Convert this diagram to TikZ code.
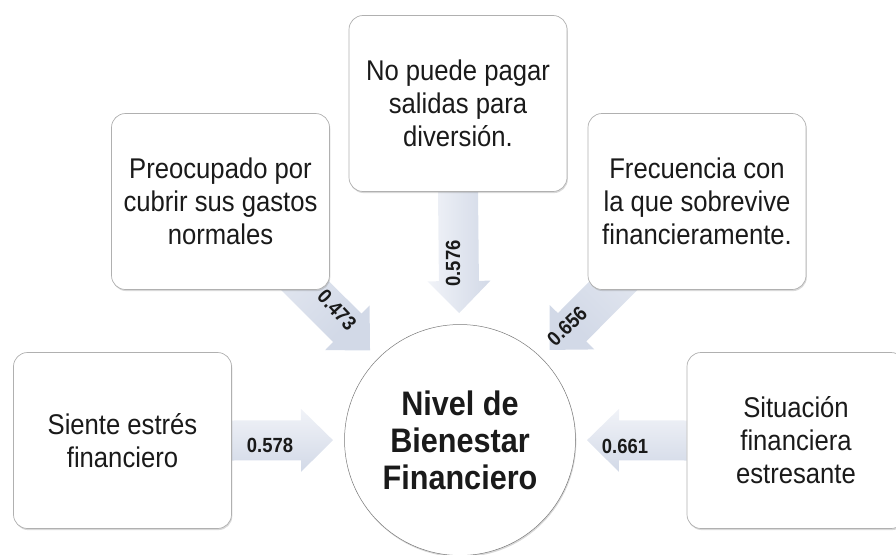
\documentclass[tikz,border=0pt]{standalone}
\usepackage{fontspec}
\setmainfont{Liberation Sans}[FakeStretch=0.9]
\usetikzlibrary{calc,shadows}
\pgfdeclarelayer{bg}
\pgfsetlayers{bg,main}
\definecolor{arrlight}{HTML}{F1F3F8}
\definecolor{arrdark}{HTML}{D2D9E7}
\definecolor{boxline}{HTML}{B0B0B0}
\definecolor{hubline}{HTML}{7A7A7A}
\definecolor{txt}{HTML}{1A1A1A}
\tikzset{
  softshadow/.style={drop shadow={shadow xshift=0.8pt, shadow yshift=-1.6pt, opacity=0.3}},
  boxnode/.style={rectangle, rounded corners=14pt, minimum width=218pt, minimum height=176pt,
    draw=boxline, line width=0.7pt, fill=white, align=center,
    font=\fontsize{28.5}{33}\selectfont, text=txt, inner sep=0pt, softshadow},
  hubnode/.style={circle, minimum size=231pt, draw=hubline, line width=0.5pt, fill=white,
    align=center, font=\bfseries\fontsize{34}{37}\selectfont, text=txt, inner sep=0pt, softshadow},
  lbl/.style={font=\bfseries\fontsize{20.5}{22}\selectfont, text=txt, inner sep=0pt},
  arrfill/.style={top color=arrlight, bottom color=arrdark}
}
% block arrow from #1 (tail) to #2 (tip), shading angle #3
\newcommand\blockarr[3]{%
  \path[arrfill, shading angle=#3] let \p1=(#1), \p2=(#2), \n1={atan2(\y2-\y1,\x2-\x1)} in
    ($(\p1)+(\n1+90:20pt)$)
    -- ($(\p2)+(\n1+180:32pt)+(\n1+90:20pt)$)
    -- ($(\p2)+(\n1+180:32pt)+(\n1+90:31.5pt)$)
    -- (\p2)
    -- ($(\p2)+(\n1+180:32pt)+(\n1-90:31.5pt)$)
    -- ($(\p2)+(\n1+180:32pt)+(\n1-90:20pt)$)
    -- ($(\p1)+(\n1-90:20pt)$) -- cycle;}
\begin{document}
\begin{tikzpicture}[x=1pt,y=-1pt]
\useasboundingbox (0,0) rectangle (896,554);
\clip (0,0) rectangle (896,554);

\node[boxnode] (tl)  at (220.5,201.5) {Preocupado por\\cubrir sus gastos\\normales};
\node[boxnode] (top) at (458,103.5)   {No puede pagar\\salidas para\\diversión.};
\node[boxnode] (tr)  at (697,201.5)   {Frecuencia con\\la que sobrevive\\financieramente.};
\node[boxnode] (ls)  at (122.5,440.5) {Siente estrés\\financiero};
\node[boxnode] (rs)  at (796,440.5)   {Situación\\financiera\\estresante};
\node[hubnode] (hub) at (460,440)     {Nivel de\\Bienestar\\Financiero};

\coordinate (tipL)  at ($(hub.center)!127pt!(ls.center)$);
\coordinate (tipR)  at ($(hub.center)!127pt!(rs.center)$);
\coordinate (tipT)  at ($(hub.center)!127pt!(top.center)$);
\coordinate (tipTL) at ($(hub.center)!127pt!(tl.center)$);
\coordinate (tipTR) at ($(hub.center)!127pt!(tr.center)$);

\begin{pgfonlayer}{bg}
  \blockarr{ls.east}{tipL}{0}
  \blockarr{rs.west}{tipR}{0}
  \blockarr{top.south}{tipT}{90}
  \blockarr{tl.center}{tipTL}{45}
  \blockarr{tr.center}{tipTR}{-45}
\end{pgfonlayer}

\node[lbl] (v578) at (270,445) {0.578};
\node[lbl] (v661) at (625,446) {0.661};
\node[lbl, rotate=90] (v576) at (453,263.5) {0.576};
\node[lbl, rotate=-47] (v473) at (337,310) {0.473};
\node[lbl, rotate=44] (v656) at (567,326) {0.656};
\end{tikzpicture}
\end{document}
